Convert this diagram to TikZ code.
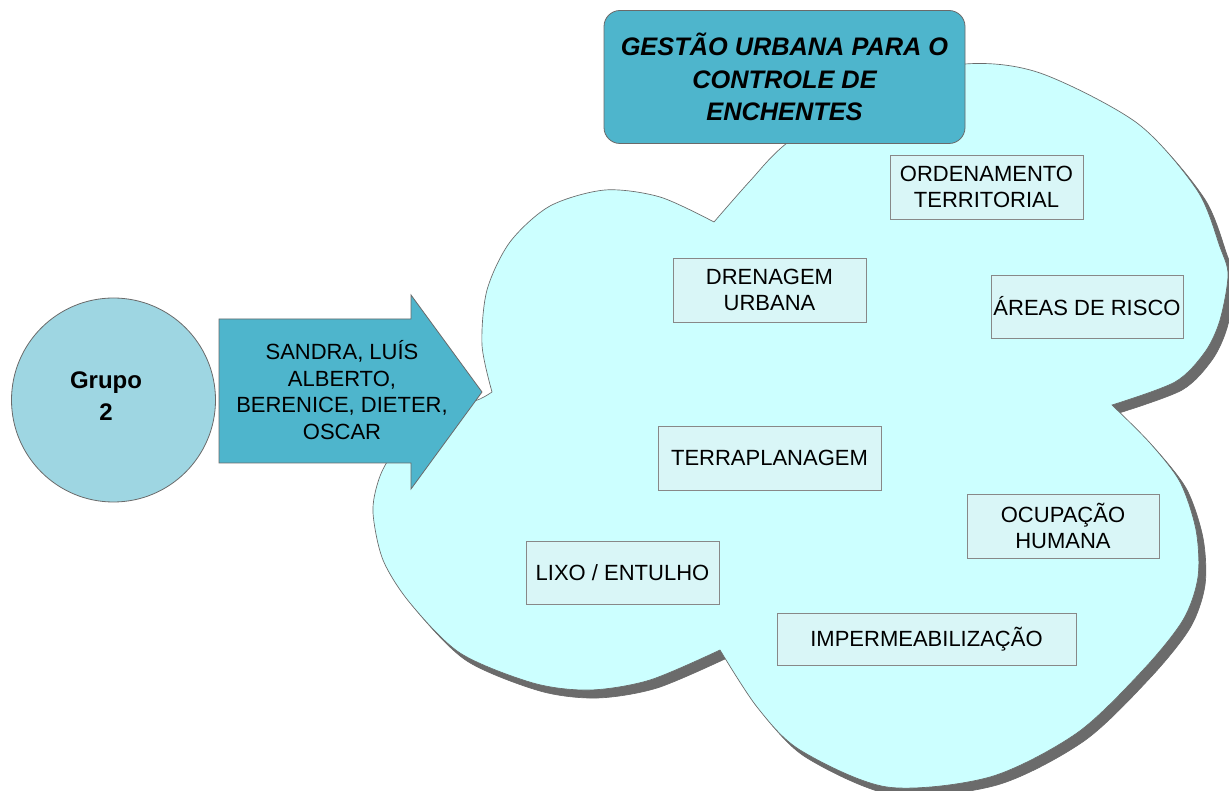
\documentclass[tikz,border=0pt]{standalone}
\usepackage{fontspec}
\setmainfont{Liberation Sans}
\definecolor{cloudfill}{HTML}{CCFFFF}
\definecolor{boxfill}{HTML}{D9F6F7}
\definecolor{titlefill}{HTML}{4EB5CC}
\definecolor{circfill}{HTML}{9ED6E2}
\definecolor{shadowgray}{HTML}{6B6B6B}
\definecolor{linegray}{HTML}{6A6A6A}
\definecolor{boxline}{HTML}{888888}
\begin{document}
\begin{tikzpicture}[x=0.75pt,y=-0.75pt,
  cloudshape/.style={insert path={
    plot[smooth] coordinates {(492,392) (482,345) (487,290) (510,242) (550,206) (605,190) (660,197) (714,222)}
    -- plot[smooth] coordinates {(714,222) (750,181) (787,143) (870,86) (965,64) (1040,73) (1137,123) (1197,190) (1220,247) (1228,275) (1220,320) (1205,352) (1175,382) (1112,405)}
    -- plot[smooth] coordinates {(1112,405) (1150,443) (1180,482) (1196,530) (1198,577) (1183,620) (1143,670) (1077,733) (990,777) (887,787) (800,750) (757,707) (720,650)}
    -- plot[smooth] coordinates {(720,650) (650,680) (590,690) (533,683) (460,653) (410,603) (383,560) (373,513) (378,482) (390,458) (420,430) (455,408) (480,399) (492,392)}
    -- cycle}},
  itembox/.style={draw=boxline, fill=boxfill, line width=0.7pt, inner sep=0pt,
    align=center, font=\fontsize{16.5}{19}\selectfont},
  bluebox/.style={draw=linegray, fill=titlefill, line width=0.6pt, inner sep=0pt,
    align=center, rounded corners=12pt},
  ]
\useasboundingbox (0,0) rectangle (1229,791);
\fill[white] (0,0) rectangle (1229,791);

% cloud shadow and outline
\fill[shadowgray, shift={(7,8)}] [cloudshape];
\draw[linegray, line width=0.5pt, shift={(7,8)}] [cloudshape];
\fill[cloudfill] [cloudshape];
\draw[linegray, line width=0.5pt] [cloudshape];

% items inside the cloud
\node[itembox, minimum width=144.75pt, minimum height=48pt] (ord) at (986.5,187) {ORDENAMENTO\\TERRITORIAL};
\node[itembox, minimum width=144pt, minimum height=47.25pt] (risco) at (1087,306.5) {ÁREAS DE RISCO};
\node[itembox, minimum width=144.75pt, minimum height=48pt] (dren) at (769.5,290) {DRENAGEM\\URBANA};
\node[itembox, minimum width=167.25pt, minimum height=48pt] (terra) at (769.5,458) {TERRAPLANAGEM};
\node[itembox, minimum width=144pt, minimum height=48pt] (ocup) at (1063,526) {OCUPAÇÃO\\HUMANA};
\node[itembox, minimum width=144.75pt, minimum height=47.25pt] (lixo) at (622.5,572.5) {LIXO / ENTULHO};
\node[itembox, minimum width=224.25pt, minimum height=39pt] (imp) at (926.5,639) {IMPERMEABILIZAÇÃO};

% title
\node[bluebox, minimum width=270.75pt, minimum height=99.75pt,
  font=\fontsize{19}{24.5}\selectfont\bfseries\itshape] (title) at (784.5,77)
  {GESTÃO URBANA PARA O\\CONTROLE DE\\ENCHENTES};

% group circle
\node[circle, draw=linegray, fill=circfill, line width=0.6pt, minimum size=153pt, inner sep=0pt] (grp) at (113.5,400) {};
\node[align=center, inner sep=0pt, font=\fontsize{18}{24}\selectfont\bfseries] (grptxt) at (106,396) {Grupo\\2};

% arrow
\draw[draw=linegray, fill=titlefill, line width=0.6pt]
  (219,319) -- (411,319) -- (411,295) -- (482,392) -- (411,489) -- (411,463) -- (219,463) -- cycle;
\node[align=center, inner sep=0pt, font=\fontsize{16.5}{20}\selectfont] (names) at (342,390)
  {SANDRA, LUÍS\\ALBERTO,\\BERENICE, DIETER,\\OSCAR};
\end{tikzpicture}
\end{document}
